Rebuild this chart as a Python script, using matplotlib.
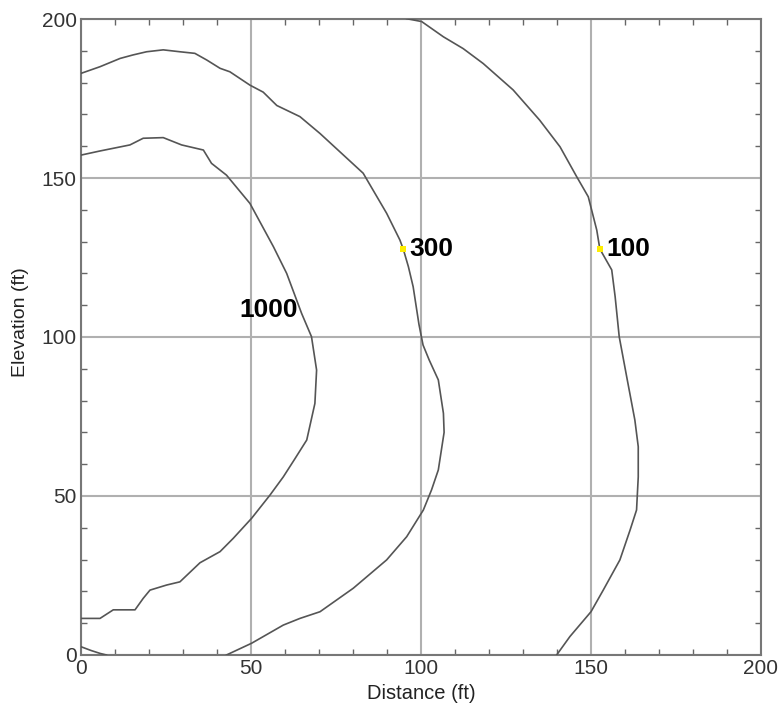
import matplotlib.pyplot as plt
import numpy as np

plt.rcParams['font.family'] = ['Liberation Sans', 'DejaVu Sans']

# contour lines (distance ft, elevation ft)
x_1000 = [0.2, 5.6, 9.5, 15.9, 18.3, 20.3, 25.2, 29.1, 35.0, 40.9, 44.8, 50.2, 55.6,
          59.5, 62.8, 66.4, 68.8, 69.3, 67.8, 64.9, 60.5, 56.6, 49.7, 42.8, 38.4, 36.0,
          29.6, 24.2, 18.3, 14.4, 5.6, 0.0]
y_1000 = [11.5, 11.5, 14.2, 14.2, 17.8, 20.4, 22.0, 23.0, 29.0, 32.5, 36.7, 43.0, 50.3,
          56.0, 61.5, 67.6, 79.1, 89.6, 100.1, 107.4, 120.0, 128.4, 142.0, 150.9, 154.6,
          158.8, 160.4, 162.7, 162.5, 160.4, 158.5, 157.2]

x_300 = [42.8, 50.2, 59.5, 64.4, 70.3, 80.1, 89.9, 95.8, 100.7, 103.1, 105.1, 106.8,
         106.6, 105.1, 102.4, 100.6, 99.4, 97.7, 96.3, 94.8, 93.8, 89.9, 83.0, 70.3, 64.4,
         57.6, 53.6, 49.7, 43.8, 40.9, 37.0, 33.5, 29.1, 24.2, 19.3, 15.3, 11.5, 5.6, 0.0]
y_300 = [0.0, 3.7, 9.4, 11.5, 13.6, 21.0, 29.9, 37.2, 45.6, 51.9, 58.2, 70.0,
         76.0, 86.5, 92.8, 97.5, 104.0, 115.8, 122.1, 127.6, 130.5, 138.9, 151.5, 164.0,
         169.3, 172.8, 177.0, 179.2, 183.4, 184.5, 187.1, 189.2, 189.7, 190.3, 189.7, 188.7,
         187.6, 185.0, 182.9]

x_100 = [139.9, 143.8, 150.0, 153.6, 158.5, 161.5, 163.4, 163.9, 163.9, 162.9, 160.5,
         158.3, 157.1, 156.1, 152.6, 151.7, 149.2, 145.8, 140.9, 134.9, 127.1, 118.3,
         112.4, 106.6, 100.2, 95.8]
y_100 = [0.0, 5.8, 13.6, 20.4, 29.9, 39.3, 45.6, 56.0, 65.5, 73.9, 87.5,
         100.1, 112.7, 121.1, 127.7, 133.6, 144.1, 150.4, 159.8, 168.2, 177.7, 186.0,
         190.7, 194.4, 199.2, 200.1]

x_small = [0.0, 3.0, 5.6, 7.5]
y_small = [2.6, 1.4, 0.5, 0.0]

labels = ['1000', '300', '100']
label_x = [46.6, 96.6, 154.6]
label_y = [108.5, 127.7, 127.7]
marker_x = [94.8, 152.6]
marker_y = [127.7, 127.7]

fig = plt.figure(figsize=(7.83, 7.2), dpi=100)
ax = fig.add_axes([0.1034, 0.0903, 0.8685, 0.8833])

line_c = '#555555'
for xs, ys in [(x_1000, y_1000), (x_300, y_300), (x_100, y_100), (x_small, y_small)]:
    ax.plot(xs, ys, color=line_c, lw=1.2, zorder=3, solid_joinstyle='round')

ax.scatter(marker_x, marker_y, s=22, marker='s', color='#ffee00', zorder=4, linewidths=0)
for t, lx, ly in zip(labels, label_x, label_y):
    ax.text(lx, ly, t, fontsize=19, fontweight='bold', color='black',
            va='center', ha='left', zorder=5)

ax.set_xlim(0, 200)
ax.set_ylim(0, 200)
ax.set_xticks([0, 50, 100, 150, 200])
ax.set_yticks([0, 50, 100, 150, 200])
ax.set_xticks(np.arange(0, 201, 10), minor=True)
ax.set_yticks(np.arange(0, 201, 10), minor=True)
ax.grid(True, which='major', color='#b0b0b0', lw=1.5, zorder=1)
ax.tick_params(which='major', length=0, labelsize=15, labelcolor='#333333', pad=3)
ax.tick_params(which='minor', direction='in', length=4, width=1, color='#666666',
               top=True, right=True)
for s in ax.spines.values():
    s.set_color('#777777')
    s.set_linewidth(1.5)

ax.set_xlabel('Distance (ft)', fontsize=14.5, color='#222222', labelpad=4)
ax.set_ylabel('Elevation (ft)', fontsize=14, color='#222222')
ax.yaxis.set_label_coords(-0.077, 0.524)

fig.savefig('out.png', dpi=100)
